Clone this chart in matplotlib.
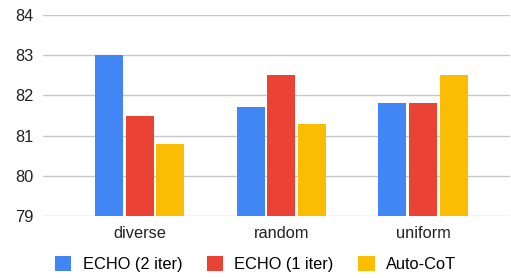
import numpy as np
import matplotlib.pyplot as plt

plt.rcParams['font.family'] = ['Liberation Sans', 'DejaVu Sans']

# datos
categorias = ["diverse", "random", "uniform"]
series = ["ECHO (2 iter)", "ECHO (1 iter)", "Auto-CoT"]
echo2 = [83.0, 81.7, 81.8]
echo1 = [81.5, 82.5, 81.8]
autocot = [80.8, 81.3, 82.5]
colores = ["#4285F4", "#EA4335", "#FBBC04"]

W, H = 511, 278
TAM = 11.8
fig = plt.figure(figsize=(W / 100, H / 100), dpi=100)
ax = fig.add_axes([43 / W, 1 - 216 / H, (510 - 43) / W, (216 - 15) / H])

x = np.arange(len(categorias))
ancho = 0.197
paso = 0.218
for i, (vals, nombre) in enumerate(zip([echo2, echo1, autocot], series)):
    ax.bar(x + (i - 1) * paso, vals, ancho, bottom=0, color=colores[i],
           label=nombre, zorder=3)

ax.set_ylim(79, 84)
ax.set_xlim(-0.68, 2.61)
ax.set_yticks([79, 80, 81, 82, 83, 84])
ax.set_xticks(x)
ax.set_xticklabels(categorias)
ax.grid(axis='y', color='#c8c8c8', linewidth=1, zorder=0)
for s in ax.spines.values():
    s.set_visible(False)
ax.tick_params(axis='both', length=0, labelsize=TAM, colors='#222222')
ax.tick_params(axis='y', pad=7)
ax.tick_params(axis='x', pad=7)

fig.legend(loc='center', bbox_to_anchor=(0.5, 1 - 264 / H), ncol=3,
           frameon=False, fontsize=TAM, handlelength=1.0, handleheight=1.0,
           handletextpad=0.7, columnspacing=1.5, borderaxespad=0)

fig.savefig("out.png", dpi=100)
